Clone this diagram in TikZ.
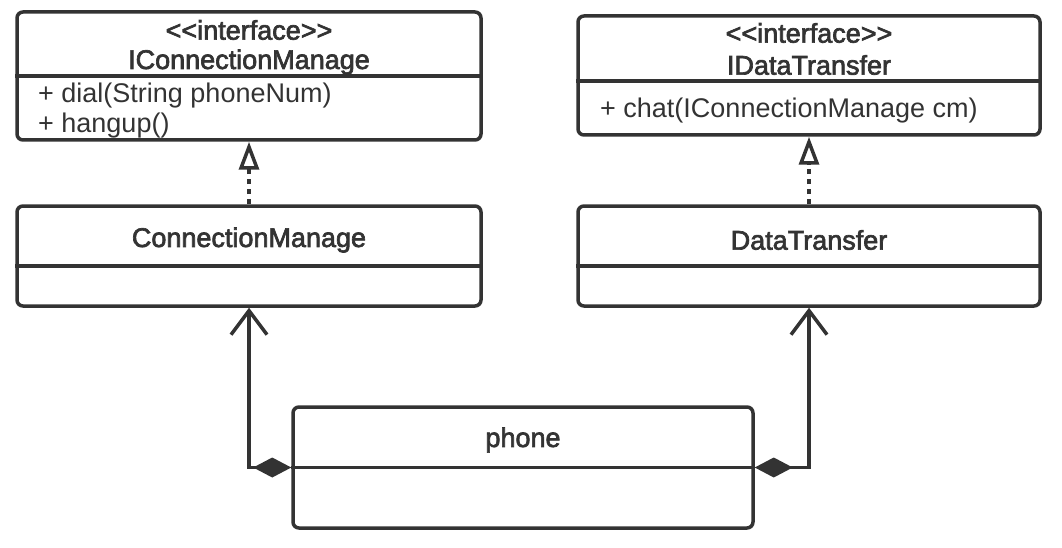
\documentclass[tikz,border=0pt]{standalone}
\usepackage{fontspec}
\setmainfont{Liberation Sans}
\newfontfamily\medfont{Liberation Sans}[FakeBold=2.5]
\usetikzlibrary{arrows.meta}
\definecolor{umlgray}{HTML}{333333}

\begin{document}
\begin{tikzpicture}[x=1pt, y=-1pt,
    classbox/.style={draw=umlgray, line width=3.5pt, rounded corners=6pt, inner sep=0pt},
    divline/.style={draw=umlgray, line width=3.5pt},
    txt/.style={text=umlgray, inner sep=0pt, font=\fontsize{27}{30}\selectfont},
    title/.style={text=umlgray, inner sep=0pt, font=\medfont\fontsize{27}{30}\selectfont},
    realize/.style={draw=umlgray, line width=3.5pt, dash pattern=on 5pt off 5pt,
        -{Triangle[open, length=28pt, width=20pt, line width=3.5pt, fill=white]}},
    assoc/.style={draw=umlgray, line width=3.5pt,
        {Straight Barb[length=24pt, width=36pt, line width=3.5pt]}-{Diamond[length=38pt, width=20pt, fill=umlgray]}}
]

    \useasboundingbox (0,0) rectangle (1062,548);

    % Class boxes
    \node[classbox, minimum width=464pt, minimum height=128pt] (icm) at (249,76) {};
    \node[classbox, minimum width=462pt, minimum height=119pt] (idt) at (809,75.5) {};
    \node[classbox, minimum width=464pt, minimum height=100pt] (cm) at (249,256) {};
    \node[classbox, minimum width=462pt, minimum height=100pt] (dt) at (809,256) {};
    \node[classbox, minimum width=460pt, minimum height=121pt] (phone) at (523,467.5) {};

    % Compartment lines
    \draw[divline] (icm.west |- 0,76) -- (icm.east |- 0,76);
    \draw[divline] (idt.west |- 0,81) -- (idt.east |- 0,81);
    \draw[divline] (cm.west |- 0,266) -- (cm.east |- 0,266);
    \draw[divline] (dt.west |- 0,266) -- (dt.east |- 0,266);
    \draw[divline] (phone.west) -- (phone.east);

    % Texts
    \node[title] (icmstereo) at (249,30) {<\kern0pt<interface>\kern0pt>};
    \node[title] (icmname) at (249,62) {IConnectionManage};
    \node[txt, anchor=west] (icmdial) at (38,96) {+ dial(String phoneNum)};
    \node[txt, anchor=west] (icmhang) at (38,126) {+ hangup()};

    \node[title] (idtstereo) at (809,33) {<\kern0pt<interface>\kern0pt>};
    \node[title] (idtname) at (809,65) {IDataTransfer};
    \node[txt, anchor=west] (idtchat) at (600,111) {+ chat(IConnectionManage cm)};

    \node[title] (cmname) at (249,240) {ConnectionManage};
    \node[title] (dtname) at (809,240) {DataTransfer};
    \node[title] (phonename) at (523,440) {phone};

    % Realization
    \draw[realize] (cm.north) -- (icm.south);
    \draw[realize] (dt.north) -- (idt.south);

    % Composition
    \draw[assoc] (cm.south) |- (phone.west);
    \draw[assoc] (dt.south) |- (phone.east);

\end{tikzpicture}
\end{document}
